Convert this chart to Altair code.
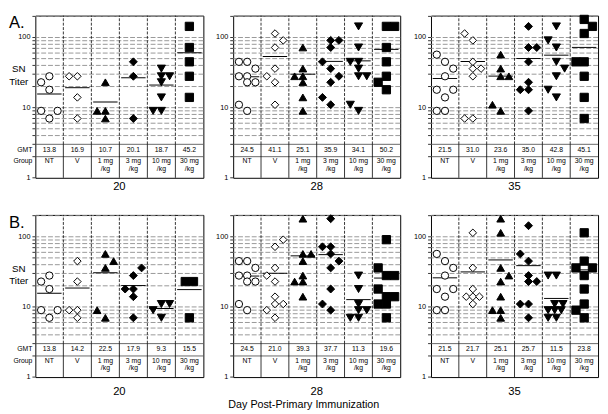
import altair as alt
import pandas as pd

FONT = "Liberation Sans"

GROUPS = ["NT", "V", "1 mg/kg", "3 mg/kg", "10 mg/kg", "30 mg/kg"]
GROUP_LINE1 = ["NT", "V", "1 mg", "3 mg", "10 mg", "30 mg"]
GROUP_LINE2 = ["", "", "/kg", "/kg", "/kg", "/kg"]
DAYS = ["20", "28", "35"]
ROW_LETTERS = ["A.", "B."]
X_TITLE = "Day Post-Primary Immunization"
Y_TITLE = ["SN", "Titer"]
Y_LABEL_VALUES = [1, 10, 100]
Y_LABEL_TEXT = ["1", "10", "100"]

SHAPES = ["circle", "diamond", "triangle-up", "diamond", "triangle-down", "square"]
FILLS = ["white", "white", "black", "black", "black", "black"]
SIZES = [56, 72, 72, 64, 72, 49]

AXIS_TICKS = [1, 2, 3, 4, 5, 6, 7, 8, 9, 10, 20, 30, 40, 50, 60, 70, 80, 90, 100, 200]
GRID_LINES = [4, 5, 6, 7, 8, 9, 10, 20, 30, 40, 50, 60, 70, 80, 90, 100, 200]
ROW_LINES = [2, 3]

# ---------------- Row A ----------------
A20 = {
    "NT": [23, 28, 18, 9, 9, 7],
    "V": [28, 28, 14, 7],
    "1 mg/kg": [23, 9, 9, 7],
    "3 mg/kg": [45, 28, 7],
    "10 mg/kg": [36, 28, 28, 23, 14, 9, 9],
    "30 mg/kg": [144, 72, 45, 28, 14],
}
A20_SLOT = {
    "NT": [-1, 0, 0, -1, 1, 0],
    "V": [-1, 0, 0, 0],
    "1 mg/kg": [0, -1, 0, 0],
    "3 mg/kg": [0, 0, 0],
    "10 mg/kg": [0, 0, 1, 0, 0, -1, 0],
    "30 mg/kg": [0, 0, 0, 0, 0],
}
A20_GMT = [13.8, 16.9, 10.7, 20.1, 18.7, 45.2]

A28 = {
    "NT": [45, 45, 36, 28, 28, 23, 23, 11, 9],
    "V": [114, 91, 72, 36, 28, 23, 11],
    "1 mg/kg": [72, 36, 28, 28, 23, 14, 9],
    "3 mg/kg": [91, 91, 72, 45, 36, 28, 23, 14, 11],
    "10 mg/kg": [144, 72, 45, 45, 36, 28, 28, 11, 9],
    "30 mg/kg": [144, 144, 72, 45, 28, 23, 18],
}
A28_SLOT = {
    "NT": [-1, 0, 1, -1, 0, 0, 1, -1, 0],
    "V": [0, 1, 0, 0, -1, 0, 0],
    "1 mg/kg": [0, 0, -1, 0, 0, 0, 0],
    "3 mg/kg": [0, 1, 0, -1, 0, 1, 0, -1, 0],
    "10 mg/kg": [0, 0, -1, 0, 0, 0, 1, -1, 0],
    "30 mg/kg": [0, 1, 0, 0, 0, -1, 0],
}
A28_GMT = [24.5, 41.1, 25.1, 35.9, 34.1, 50.2]

A35 = {
    "NT": [57, 45, 36, 28, 18, 18, 14, 9, 9],
    "V": [114, 91, 45, 36, 36, 28, 7, 7],
    "1 mg/kg": [57, 36, 28, 28, 11, 9],
    "3 mg/kg": [144, 72, 72, 45, 23, 18, 18, 9],
    "10 mg/kg": [144, 91, 72, 45, 36, 28, 18, 14],
    "30 mg/kg": [181, 144, 114, 45, 45, 28, 14, 7],
}
A35_SLOT = {
    "NT": [-1, 0, 1, 0, -1, 1, 0, -1, 0],
    "V": [-1, 0, 0, 0, 1, 0, -1, 0],
    "1 mg/kg": [0, 0, 0, 1, -1, 0],
    "3 mg/kg": [0, 0, 1, 0, 0, -1, 0, 0],
    "10 mg/kg": [0, -1, 0, 0, 1, 0, -1, 0],
    "30 mg/kg": [0, 1, 0, -1, 0, 0, 0, 0],
}
A35_GMT = [21.5, 31.0, 23.6, 35.0, 42.8, 45.1]

# ---------------- Row B ----------------
B20 = {
    "NT": [23, 28, 18, 9, 9, 7],
    "V": [45, 23, 9, 9, 7],
    "1 mg/kg": [57, 45, 36, 9, 7],
    "3 mg/kg": [36, 28, 18, 18, 14, 7],
    "10 mg/kg": [11, 11, 9, 7],
    "30 mg/kg": [23, 23, 7],
}
B20_SLOT = {
    "NT": [-1, 0, 0, -1, 1, 0],
    "V": [0, 0, -1, 0, 0],
    "1 mg/kg": [0, 1, 0, -1, 0],
    "3 mg/kg": [1, 0, -1, 0, 0, 0],
    "10 mg/kg": [0, 1, -1, 0],
    "30 mg/kg": [-0.5, 0.5, 0],
}
B20_GMT = [13.8, 14.2, 22.5, 17.9, 9.3, 15.5]

B28 = {
    "NT": [45, 45, 36, 28, 28, 23, 23, 11, 9],
    "V": [91, 72, 36, 28, 23, 14, 11, 11, 9, 7],
    "1 mg/kg": [181, 57, 57, 45, 28, 23, 23, 14],
    "3 mg/kg": [181, 72, 72, 57, 45, 36, 18, 11, 9],
    "10 mg/kg": [28, 18, 11, 9, 9, 7, 7],
    "30 mg/kg": [91, 36, 28, 28, 18, 14, 14, 11, 11, 7],
}
B28_SLOT = {
    "NT": [-1, 0, 1, -1, 0, 0, 1, -1, 0],
    "V": [1, 0, 0, -1, 0, 0, 0, 1, -1, 0],
    "1 mg/kg": [0, 0, 1, 0, 0, -1, 0, 0],
    "3 mg/kg": [0, -1, 0, 0, 1, 0, 0, -1, 0],
    "10 mg/kg": [0, 0, 0, 0, 1, -1, 0],
    "30 mg/kg": [0, -1, 0, 1, -1, 0, 1, -1, 0, 0],
}
B28_GMT = [24.5, 21.0, 39.3, 37.7, 11.3, 19.6]

B35 = {
    "NT": [57, 45, 36, 28, 18, 18, 14, 9, 9],
    "V": [114, 36, 18, 14, 14, 14, 11],
    "1 mg/kg": [181, 114, 36, 28, 23, 14, 9, 9, 7],
    "3 mg/kg": [144, 57, 45, 28, 23, 23, 11, 11, 7],
    "10 mg/kg": [28, 28, 11, 11, 9, 9, 9, 7, 7],
    "30 mg/kg": [114, 45, 36, 36, 28, 18, 11, 9, 7],
}
B35_SLOT = {
    "NT": [-1, 0, 1, 0, -1, 1, 0, -1, 0],
    "V": [0, 0, 0, -0.8, 0, 0.8, 0],
    "1 mg/kg": [0, 0, 0, 1, 0, 0, -1, 0, 0],
    "3 mg/kg": [0, -1, 0, 0, 0, 1, -1, 0, 0],
    "10 mg/kg": [-1, 0, -0.2, 0.8, -1, -0.2, 0.6, -1, 0],
    "30 mg/kg": [0, 0, -1, 1, 0, 0, 0, -1, 0],
}
B35_GMT = [21.5, 21.7, 25.1, 25.7, 11.5, 23.8]

PANELS = [
    [(A20, A20_SLOT, A20_GMT), (A28, A28_SLOT, A28_GMT), (A35, A35_SLOT, A35_GMT)],
    [(B20, B20_SLOT, B20_GMT), (B28, B28_SLOT, B28_GMT), (B35, B35_SLOT, B35_GMT)],
]
WIDTHS = [172, 171, 171]
HEIGHT = 166
DAY_GAP = [10, 15]


def make_panel(titers, slots, gmt, day, letter, first, width, day_gap):
    rows = []
    for g in GROUPS:
        for v, s in zip(titers[g], slots[g]):
            rows.append({"group": g, "titer": v, "slot": s})
    pts = pd.DataFrame(rows)

    xs = alt.Scale(type="band", domain=GROUPS, paddingInner=0, paddingOuter=0)
    ys = alt.Scale(type="log", domain=[1, 205], nice=False)

    def xg(**kw):
        return alt.X("group:N", scale=xs, axis=None, **kw)

    def ydat(v):
        return alt.YDatum(v, scale=ys, axis=None)

    grid = alt.Chart(pd.DataFrame({"g": GRID_LINES})).mark_rule(
        color="#8c8c8c", strokeWidth=0.9, strokeDash=[5, 2]
    ).encode(y=alt.Y("g:Q", scale=ys, axis=None))

    bands = alt.Chart(pd.DataFrame({"g": ROW_LINES})).mark_rule(
        color="#555555", strokeWidth=0.9
    ).encode(y=alt.Y("g:Q", scale=ys, axis=None))

    ticks = alt.Chart(pd.DataFrame({"t": AXIS_TICKS})).mark_rule(
        color="black", strokeWidth=0.8
    ).encode(x=alt.value(-3), x2=alt.value(0), y=alt.Y("t:Q", scale=ys, axis=None))

    ylabels = alt.Chart(pd.DataFrame({"v": Y_LABEL_VALUES, "lab": Y_LABEL_TEXT})).mark_text(
        align="right", baseline="middle", fontSize=7.5, color="black"
    ).encode(x=alt.value(-5), y=alt.Y("v:Q", scale=ys, axis=None), text="lab:N")

    seps = pd.DataFrame({"group": GROUPS[1:]})
    vdash = alt.Chart(seps).mark_rule(color="black", strokeWidth=0.8, strokeDash=[3, 1.5]).encode(
        x=xg(bandPosition=0), y=ydat(3), y2=alt.Y2Datum(205),
    )
    vsolid = alt.Chart(seps).mark_rule(color="black", strokeWidth=0.8).encode(
        x=xg(bandPosition=0), y=ydat(1), y2=alt.Y2Datum(3),
    )

    means = alt.Chart(pts).mark_tick(color="black", thickness=1, size=25, opacity=1).encode(
        x=xg(), y=alt.Y("mean(titer):Q", scale=ys, axis=None),
    )

    points = alt.Chart(pts).mark_point(filled=True, opacity=1, stroke="black", strokeWidth=1).encode(
        x=xg(),
        xOffset=alt.XOffset("slot:Q", scale=alt.Scale(domain=[-1.7, 1.7])),
        y=alt.Y("titer:Q", scale=ys, axis=None),
        shape=alt.Shape("group:N", scale=alt.Scale(domain=GROUPS, range=SHAPES), legend=None),
        fill=alt.Fill("group:N", scale=alt.Scale(domain=GROUPS, range=FILLS), legend=None),
        size=alt.Size("group:N", scale=alt.Scale(domain=GROUPS, range=SIZES), legend=None),
    )

    gmt_df = pd.DataFrame({"group": GROUPS, "gmt": [f"{v:.1f}" for v in gmt]})
    gmt_txt = alt.Chart(gmt_df).mark_text(fontSize=7, baseline="middle", color="black").encode(
        x=xg(), y=ydat(2.47), text="gmt:N"
    )
    lab_df = pd.DataFrame({"group": GROUPS, "l1": GROUP_LINE1, "l2": GROUP_LINE2})
    lab1 = alt.Chart(lab_df).mark_text(fontSize=7, baseline="middle", color="black").encode(
        x=xg(), y=ydat(1.71), text="l1:N"
    )
    lab2 = alt.Chart(lab_df).mark_text(fontSize=7, baseline="middle", color="black").encode(
        x=xg(), y=ydat(1.34), text="l2:N"
    )

    one = pd.DataFrame({"k": [0]})
    day_txt = alt.Chart(one).mark_text(align="center", baseline="middle", fontSize=11.5, color="black").encode(
        x=alt.value(width / 2), y=alt.value(HEIGHT + day_gap), text=alt.value(day)
    )

    layers = [grid, bands, vdash, vsolid, ticks, ylabels, means, points, gmt_txt, lab1, lab2, day_txt]

    if first:
        layers.append(
            alt.Chart(one).mark_text(align="left", baseline="alphabetic", fontSize=17, color="black").encode(
                x=alt.value(-27), y=alt.value(13), text=alt.value(letter)
            )
        )
        layers.append(
            alt.Chart(one).mark_text(align="center", baseline="top", fontSize=10, lineHeight=13,
                                     color="black").encode(
                x=alt.value(-17), y=alt.value(50), text=alt.value(Y_TITLE)
            )
        )
        layers.append(
            alt.Chart(one).mark_text(align="right", baseline="middle", fontSize=7, color="black").encode(
                x=alt.value(-3), y=ydat(2.47), text=alt.value("GMT")
            )
        )
        layers.append(
            alt.Chart(one).mark_text(align="right", baseline="middle", fontSize=7, color="black").encode(
                x=alt.value(-3), y=ydat(1.71), text=alt.value("Group")
            )
        )
    return alt.layer(*layers).properties(width=width, height=HEIGHT)


rows = []
for ri, row in enumerate(PANELS):
    panels = []
    for ci, (tit, sl, gm) in enumerate(row):
        panels.append(make_panel(tit, sl, gm, DAYS[ci], ROW_LETTERS[ri], ci == 0, WIDTHS[ci], DAY_GAP[ri]))
    rows.append(alt.hconcat(*panels, spacing=10.5))

chart = alt.vconcat(*rows, spacing=19).properties(
    title=alt.TitleParams(X_TITLE, orient="bottom", fontSize=11, fontWeight="normal",
                          offset=2, anchor="middle", color="black"),
    padding=0,
).configure(font=FONT).configure_view(stroke="black", strokeWidth=1)

chart.save("out.html", embed_options={"renderer": "svg", "actions": False})
